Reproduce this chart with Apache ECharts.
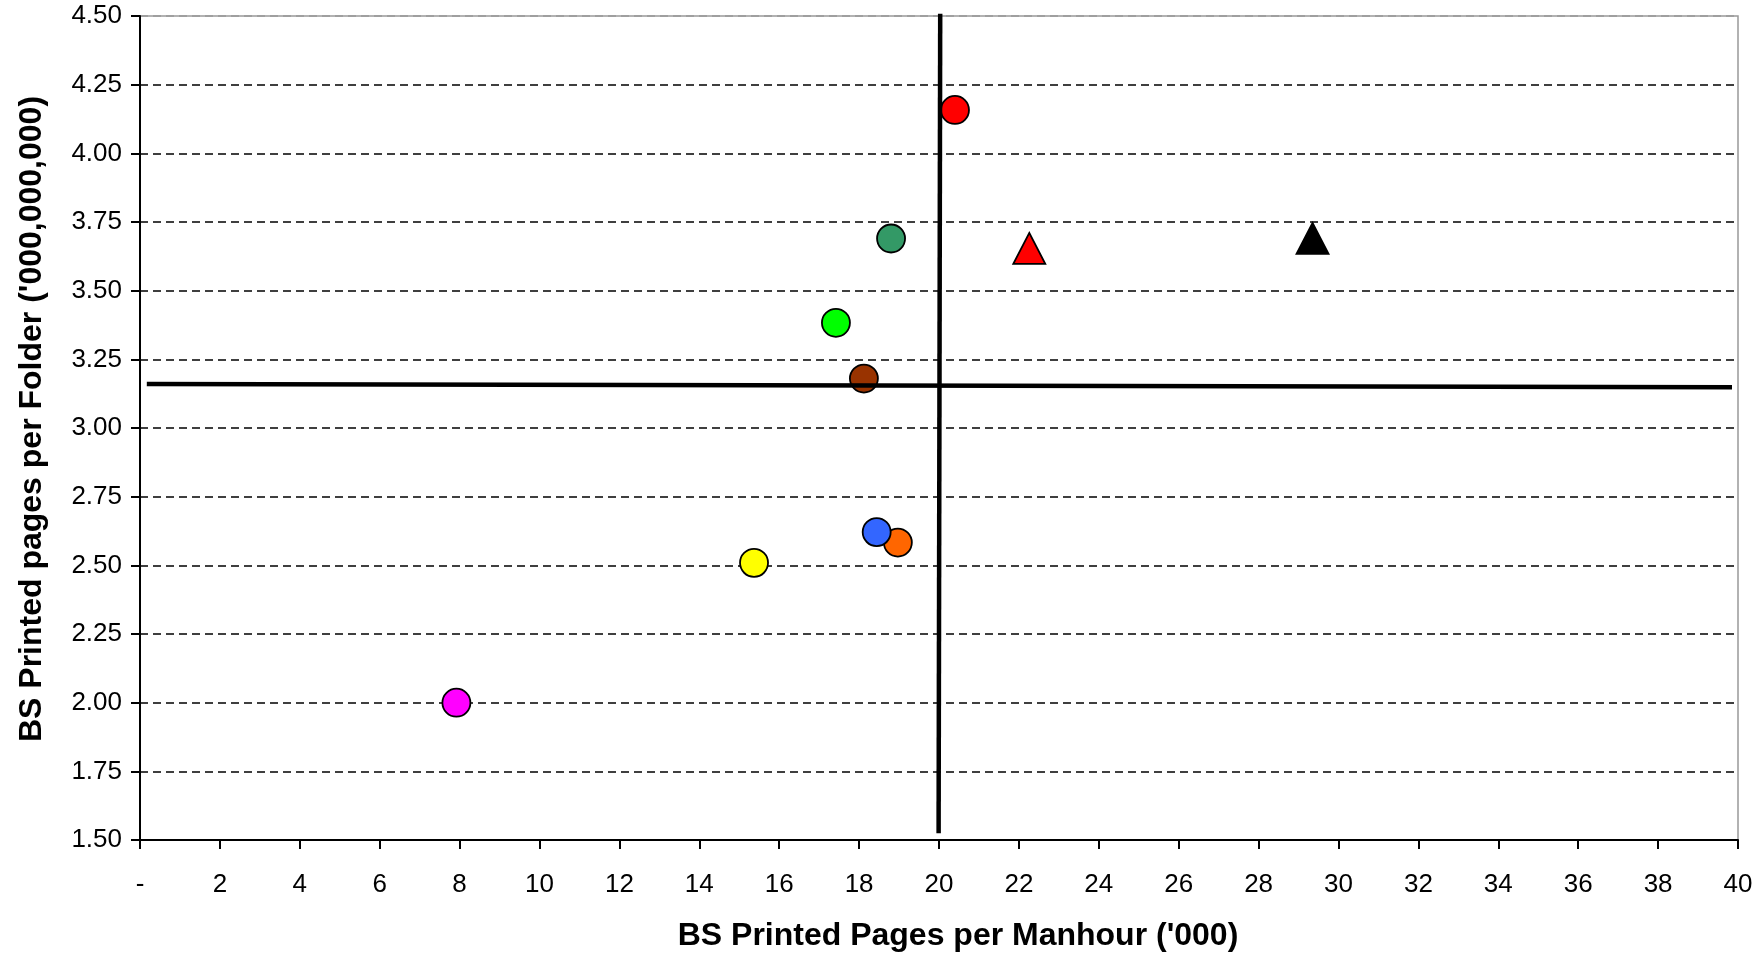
<!DOCTYPE html>
<html>
<head>
<meta charset="utf-8">
<script src="https://cdn.jsdelivr.net/npm/echarts@6/dist/echarts.min.js"></script>
<style>
html,body{margin:0;padding:0;background:#fff;}
#chart{width:1764px;height:957px;}
</style>
</head>
<body>
<div id="chart"></div>
<script>
// Data points (x: '000 pages per manhour, y: '000,000,000 pages per folder)
const pointX = [20.4, 18.8, 17.42, 18.12, 18.97, 18.44, 15.37, 7.92, 22.26, 29.35];
const pointY = [4.158, 3.69, 3.383, 3.18, 2.583, 2.621, 2.509, 2.0, 3.654, 3.69];
const pointColors = ['#FF0000', '#339966', '#00FF00', '#993300', '#FF6600', '#3366FF', '#FFFF00', '#FF00FF', '#FF0000', '#000000'];
const pointSymbols = ['circle', 'circle', 'circle', 'circle', 'circle', 'circle', 'circle', 'circle', 'triangle', 'triangle'];

// Quadrant divider lines
const hLineX = [0.17, 39.85];
const hLineY = [3.16, 3.148];
const vLineX = [20.03, 19.99];
const vLineY = [4.508, 1.525];

// Axis ranges
const xMin = 0, xMax = 40, xStep = 2;
const yMin = 1.5, yMax = 4.5, yStep = 0.25;

const xTitle = "BS Printed Pages per Manhour ('000)";
const yTitle = "BS Printed pages per Folder ('000,000,000)";

const font = 'Liberation Sans, Arial, sans-serif';

const series = [];
for (let i = 0; i < pointX.length; i++) {
  const isTri = pointSymbols[i] === 'triangle';
  series.push({
    type: 'scatter',
    symbol: pointSymbols[i],
    symbolSize: isTri ? [32, 31] : 28,
    data: [[pointX[i], pointY[i]]],
    itemStyle: { color: pointColors[i], borderColor: '#000', borderWidth: 1.8, opacity: 1 },
    z: 2
  });
}
series.push({
  type: 'line', data: [[hLineX[0], hLineY[0]], [hLineX[1], hLineY[1]]],
  showSymbol: false, symbol: 'none', clip: false,
  lineStyle: { color: '#000', width: 4.5 }, z: 3, silent: true
});
series.push({
  type: 'line', data: [[vLineX[0], vLineY[0]], [vLineX[1], vLineY[1]]],
  showSymbol: false, symbol: 'none', clip: false,
  lineStyle: { color: '#000', width: 4.5 }, z: 3, silent: true
});

const splitColors = [];
const nY = Math.round((yMax - yMin) / yStep) + 1;
for (let i = 0; i < nY; i++) splitColors.push(i === nY - 1 ? '#999999' : '#000000');

const chart = echarts.init(document.getElementById('chart'));
chart.setOption({
  animation: false,
  backgroundColor: '#fff',
  grid: { left: 140, right: 26, top: 16, bottom: 109, show: true, borderColor: '#999', borderWidth: 1.5, backgroundColor: 'transparent' },
  xAxis: {
    type: 'value', min: xMin, max: xMax, interval: xStep,
    name: xTitle, nameLocation: 'middle', nameGap: 80,
    nameTextStyle: { fontFamily: font, fontSize: 32, fontWeight: 'bold', color: '#000', padding: [0, 0, 0, 38] },
    axisLine: { show: true, lineStyle: { color: '#000', width: 2 } },
    axisTick: { show: true, inside: false, length: 9, lineStyle: { color: '#000', width: 2 } },
    axisLabel: { margin: 32, fontFamily: font, fontSize: 26, color: '#000',
      formatter: v => (v === 0 ? '-' : String(v)) },
    splitLine: { show: false }
  },
  yAxis: {
    type: 'value', min: yMin, max: yMax, interval: yStep,
    name: yTitle, nameLocation: 'middle', nameGap: 92, nameRotate: 90,
    nameTextStyle: { fontFamily: font, fontSize: 32, fontWeight: 'bold', color: '#000', padding: [0, 0, 0, 18] },
    axisLine: { show: true, lineStyle: { color: '#000', width: 2 } },
    axisTick: { show: true, inside: false, length: 9, lineStyle: { color: '#000', width: 2 } },
    axisLabel: { margin: 18, fontFamily: font, fontSize: 26, color: '#000',
      formatter: v => v.toFixed(2) },
    splitLine: { show: true, lineStyle: { color: splitColors, type: [8, 5], width: 1.5 } }
  },
  series: series
});
</script>
</body>
</html>
